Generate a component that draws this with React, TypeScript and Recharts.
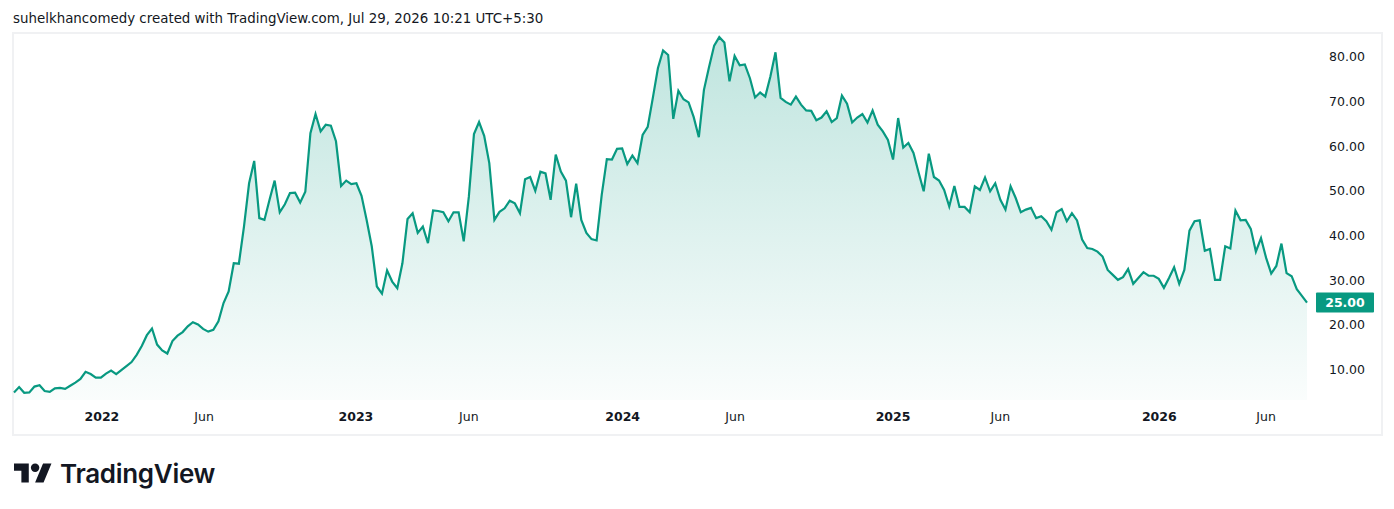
import { Area, AreaChart, ReferenceLine, XAxis, YAxis } from "recharts";

// weekly closes
const closes = [
  4.9, 6.1, 4.8, 4.9, 6.2, 6.5, 5.2, 5.0, 5.8, 5.9, 5.7, 6.4, 7.1, 7.9, 9.5,
  9.0, 8.2, 8.2, 9.1, 9.8, 9.0, 9.9, 10.8, 11.7, 13.3, 15.3, 17.7, 19.2, 15.6,
  14.3, 13.6, 16.4, 17.6, 18.4, 19.7, 20.6, 20.1, 19.1, 18.5, 18.9, 20.8, 24.9,
  27.5, 33.8, 33.7,
  42.0, 51.7, 56.7, 43.9, 43.5, 48.0, 52.3, 45.2, 47.0, 49.5, 49.6, 47.4, 49.8,
  62.9, 67.2, 63.3, 64.8, 64.6, 61.1, 51.1, 52.3, 51.5, 51.7, 48.9, 43.5, 37.6,
  28.6, 27.0, 32.2, 29.7, 28.2, 33.8, 43.7, 45.0, 40.6, 42.0, 38.3, 45.6, 45.5,
  45.2, 43.2, 45.2, 45.2,
  38.7, 48.7, 62.7, 65.4, 62.3, 56.2, 43.5, 45.3, 46.1, 47.8, 47.2, 45.0, 52.6,
  53.1, 50.0, 54.3, 53.9, 48.0, 58.1, 54.3, 52.3, 44.1, 51.6, 43.5, 40.6, 39.2,
  38.9, 49.1, 57.1, 57.0, 59.4, 59.5, 56.0, 57.9, 56.2, 62.5, 64.3,
  70.8, 77.5, 81.4, 80.4, 66.1, 72.4, 70.5, 69.8, 66.5, 62.0, 72.6, 77.7, 82.5,
  84.4, 83.2, 74.5, 80.2, 78.1, 78.3, 75.2, 70.9, 72.0, 71.1, 75.6, 81.0, 70.8,
  69.9, 69.3, 71.1, 69.3, 68.0, 67.9, 65.8, 66.4, 67.8, 65.4, 66.3, 71.3, 69.5,
  65.3, 66.4, 67.2, 65.3,
  68.0, 64.8, 63.3, 61.4, 57.0, 66.3, 59.7, 60.7, 58.5, 54.1, 49.9, 58.3, 53.1,
  52.3, 50.2, 46.5, 51.1, 46.4, 46.4, 45.2, 51.0, 50.2, 53.0, 49.9, 51.7, 48.0,
  45.8, 51.0, 48.4, 45.2, 45.8, 46.2, 43.9, 44.3, 43.2, 41.3, 45.2, 45.9, 43.2,
  45.0, 43.4, 39.1, 37.2,
  37.0, 36.4, 35.3, 32.3, 31.2, 30.1, 30.7, 32.5, 29.2, 30.5, 31.8, 31.0, 31.0,
  30.3, 28.3, 30.5, 32.9, 29.2, 32.3, 41.1, 43.2, 43.4, 36.6, 37.0, 30.1, 30.1,
  37.6, 37.1, 45.6, 43.4, 43.5, 41.5, 36.4, 39.4, 35.0, 31.5, 33.2, 38.2, 31.6,
  30.9, 28.0, 26.5, 25.0,
];

const priceTicks = [10, 20, 30, 40, 50, 60, 70, 80];
// week index where each time label sits
const timeTickWeeks = [17.2, 37.2, 66.9, 89.0, 119.1, 141.1, 172.0, 193.0, 224.1, 245.0];
const timeTickLabels = ["2022", "Jun", "2023", "Jun", "2024", "Jun", "2025", "Jun", "2026", "Jun"];

const data = closes.map((close, w) => ({ w, close }));
const last = closes[closes.length - 1];

const GREEN = "#089981";
const TEXT = "#131722";
const FONT = "'DejaVu Sans', sans-serif";

const TimeTick = (props: any) => {
  const label = timeTickLabels[props.index];
  const isYear = /^\d{4}$/.test(label);
  return (
    <text
      x={props.x}
      y={props.y + 21}
      textAnchor="middle"
      fontFamily={FONT}
      fontSize={12.5}
      fontWeight={isYear ? 700 : 400}
      fill={TEXT}
    >
      {label}
    </text>
  );
};

const PriceTick = (props: any) => (
  <text
    x={props.x + 40}
    y={props.y + 4.5}
    textAnchor="middle"
    fontFamily={FONT}
    fontSize={12.5}
    fill={TEXT}
  >
    {Number(props.payload.value).toFixed(2)}
  </text>
);

const PriceTag = (props: any) => {
  const { x, y, width } = props.viewBox;
  const left = x + width + 9;
  return (
    <g>
      <rect x={left} y={y - 10} width={58} height={20} rx={1} fill={GREEN} />
      <text
        x={left + 29}
        y={y + 4.5}
        textAnchor="middle"
        fontFamily={FONT}
        fontSize={12.5}
        fontWeight={700}
        fill="#ffffff"
      >
        {last.toFixed(2)}
      </text>
    </g>
  );
};

const Logo = () => (
  <div style={{ position: "absolute", left: 14, top: 459, display: "flex", alignItems: "center" }}>
    <svg width={38} height={30} viewBox="0 0 36 28">
      <path d="M14 22H7V11H0V4h14v18zM28 22h-8l7.5-18h8L28 22z" fill="#131722" />
      <circle cx={20} cy={8} r={4} fill="#131722" />
    </svg>
    <span
      style={{
        marginLeft: 8,
        fontFamily: "Inter, sans-serif",
        fontWeight: 600,
        fontSize: 26,
        color: "#131722",
        letterSpacing: -0.3,
        lineHeight: "30px",
      }}
    >
      TradingView
    </span>
  </div>
);

export default function App() {
  return (
    <div
      style={{
        position: "absolute",
        left: 0,
        top: 0,
        width: 1394,
        height: 509,
        background: "#ffffff",
        overflow: "hidden",
      }}
    >
      <div
        style={{
          position: "absolute",
          left: 13,
          top: 11,
          fontFamily: FONT,
          fontSize: 13.4,
          color: TEXT,
          whiteSpace: "nowrap",
        }}
      >
        suhelkhancomedy created with TradingView.com, Jul 29, 2026 10:21 UTC+5:30
      </div>
      <div
        style={{
          position: "absolute",
          left: 12,
          top: 32,
          width: 1367,
          height: 400,
          border: "2px solid #f0f1f3",
        }}
      />
      <div style={{ position: "absolute", left: 0, top: 0 }}>
        <AreaChart
          width={1394}
          height={509}
          data={data}
          margin={{ top: 34, right: 13, bottom: 76, left: 14 }}
        >
          <defs>
            <linearGradient id="fillGrad" x1="0" y1="0" x2="0" y2="1">
              <stop offset="0%" stopColor={GREEN} stopOpacity={0.26} />
              <stop offset="100%" stopColor={GREEN} stopOpacity={0.02} />
            </linearGradient>
          </defs>
          <XAxis
            dataKey="w"
            type="number"
            domain={[0, closes.length - 1]}
            ticks={timeTickWeeks}
            interval={0}
            height={33}
            axisLine={false}
            tickLine={false}
            tickSize={0}
            tickMargin={0}
            tick={<TimeTick />}
          />
          <YAxis
            orientation="right"
            domain={[3.2, 85.1]}
            ticks={priceTicks}
            interval={0}
            width={74}
            axisLine={false}
            tickLine={false}
            tickSize={0}
            tickMargin={0}
            tick={<PriceTick />}
            allowDataOverflow
          />
          <Area
            type="linear"
            dataKey="close"
            stroke={GREEN}
            strokeWidth={2.2}
            fill="url(#fillGrad)"
            fillOpacity={1}
            dot={false}
            activeDot={false}
            isAnimationActive={false}
          />
          <ReferenceLine y={last} stroke="none" label={<PriceTag />} />
        </AreaChart>
      </div>
      <Logo />
    </div>
  );
}
